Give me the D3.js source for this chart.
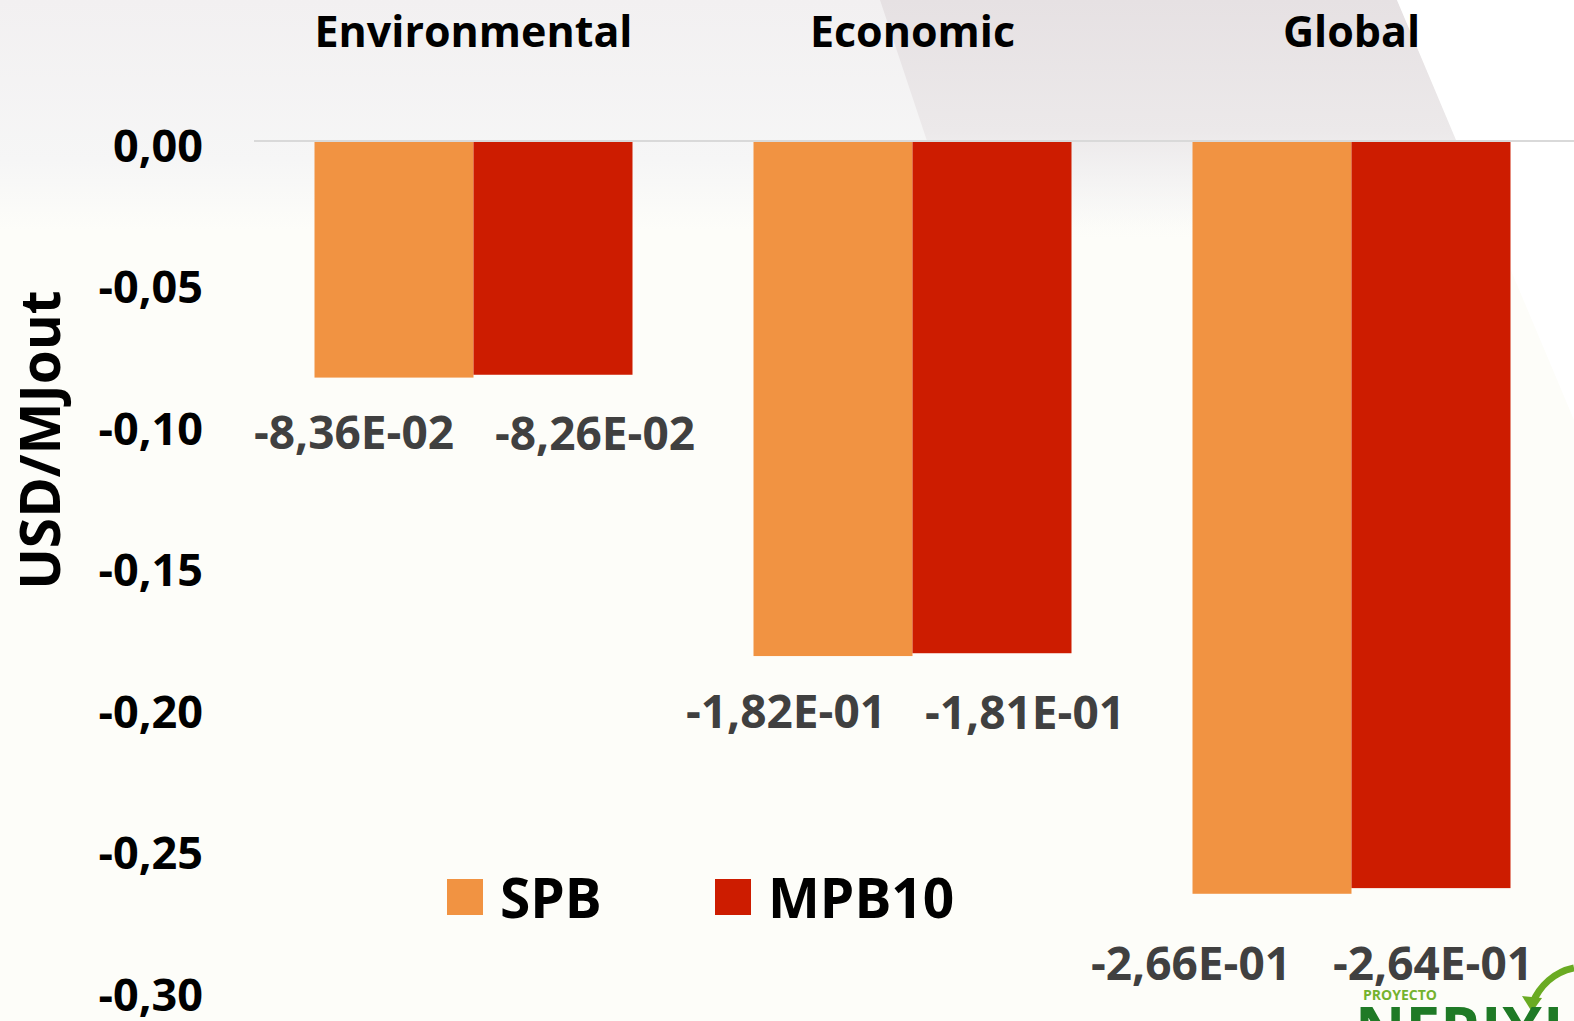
<!DOCTYPE html>
<html>
<head>
<meta charset="utf-8">
<script src="https://cdn.jsdelivr.net/npm/d3@7"></script>
<style>
  html, body { margin: 0; padding: 0; background: #fdfdf9; overflow: hidden; }
  text { font-family: "Open Sans", "Noto Sans", sans-serif; font-weight: bold; }
</style>
</head>
<body>
<div id="graphe"></div>
<script>
//----------------------------------------------------------------
// donnees du graphique
var categories = ["Environmental", "Economic", "Global"];
var series = ["SPB", "MPB10"];
var valeursSPB = [-0.0836, -0.182, -0.266];
var valeursMPB10 = [-0.0826, -0.181, -0.264];
var etiquettesSPB = ["-8,36E-02", "-1,82E-01", "-2,66E-01"];
var etiquettesMPB10 = ["-8,26E-02", "-1,81E-01", "-2,64E-01"];
var ticks = [0, -0.05, -0.10, -0.15, -0.20, -0.25, -0.30];
var couleurs = ["#f19342", "#cd1c00"];

// decalage manuel des etiquettes (comme sur la diapo)
var decalageX = [[-40, -47, -81], [42, 33, 2]];
var decalageY = [[55, 56, 70], [59, 60, 76]];

//----------------------------------------------------------------
var largeur = 1574, hauteur = 1021;
var svg = d3.select("#graphe")
  .append("svg")
  .attr("width", largeur)
  .attr("height", hauteur);

// fond de la diapo
var defs = svg.append("defs");
var gradHaut = defs.append("linearGradient")
  .attr("id", "gradHaut").attr("x1", 0).attr("y1", 0).attr("x2", 0).attr("y2", 1);
gradHaut.append("stop").attr("offset", "0%").attr("stop-color", "#f2f0f1");
gradHaut.append("stop").attr("offset", "70%").attr("stop-color", "#f6f6f6");
gradHaut.append("stop").attr("offset", "100%").attr("stop-color", "#fdfdf9");
var gradForme = defs.append("linearGradient")
  .attr("id", "gradForme").attr("x1", 0).attr("y1", 0).attr("x2", 0).attr("y2", 1);
gradForme.append("stop").attr("offset", "0%").attr("stop-color", "#e6e1e3");
gradForme.append("stop").attr("offset", "55%").attr("stop-color", "#ece9ea");
gradForme.append("stop").attr("offset", "100%").attr("stop-color", "#f6f6f6").attr("stop-opacity", 0);

svg.append("rect").attr("width", largeur).attr("height", hauteur).attr("fill", "#fdfdf9");
svg.append("rect").attr("width", largeur).attr("height", 230).attr("fill", "url(#gradHaut)");
svg.append("path")
  .attr("d", "M880,0 L1397,0 L1480,193 L1500,240 L960,240 Z")
  .attr("fill", "url(#gradForme)");
svg.append("path")
  .attr("d", "M1397,0 L1574,0 L1574,420 Z")
  .attr("fill", "#ffffff");

//----------------------------------------------------------------
// echelles
var x = d3.scaleBand()
  .domain(categories)
  .range([254, 1571])
  .paddingInner(121 / 439)
  .paddingOuter(0.5 * 121 / 439);
var xSerie = d3.scaleBand()
  .domain(series)
  .range([0, x.bandwidth()]);
var y = d3.scaleLinear()
  .domain([0, -0.30])
  .range([141, 990]);

var donnees = [];
categories.forEach(function(c, i) {
  donnees.push({cat: c, serie: 0, val: valeursSPB[i], lab: etiquettesSPB[i], i: i});
  donnees.push({cat: c, serie: 1, val: valeursMPB10[i], lab: etiquettesMPB10[i], i: i});
});

// ligne du zero
svg.append("line")
  .attr("x1", 254).attr("x2", largeur)
  .attr("y1", y(0)).attr("y2", y(0))
  .attr("stroke", "#d9d9d9")
  .attr("stroke-width", 2);

// barres
svg.selectAll(".barre")
  .data(donnees)
  .enter()
  .append("rect")
  .attr("class", "barre")
  .attr("x", function(d) { return x(d.cat) + xSerie(series[d.serie]); })
  .attr("y", y(0) + 1)
  .attr("width", xSerie.bandwidth())
  .attr("height", function(d) { return y(d.val) - y(0) - 1; })
  .attr("fill", function(d) { return couleurs[d.serie]; });

// etiquettes des valeurs
svg.selectAll(".etiquette")
  .data(donnees)
  .enter()
  .append("text")
  .attr("class", "etiquette")
  .attr("text-anchor", "middle")
  .attr("font-size", "46px")
  .attr("fill", "#404040")
  .attr("x", function(d) {
    return x(d.cat) + xSerie(series[d.serie]) + xSerie.bandwidth() / 2 + decalageX[d.serie][d.i];
  })
  .attr("y", function(d) { return y(d.val) + decalageY[d.serie][d.i] + 16; })
  .text(function(d) { return d.lab; });

// noms des categories en haut
svg.selectAll(".categorie")
  .data(categories)
  .enter()
  .append("text")
  .attr("class", "categorie")
  .attr("text-anchor", "middle")
  .attr("font-size", "43px")
  .attr("fill", "#000")
  .attr("x", function(d) { return x(d) + x.bandwidth() / 2; })
  .attr("y", 47)
  .text(function(d) { return d; });

// axe vertical (texte seulement)
var axeY = d3.axisLeft(y)
  .tickValues(ticks)
  .tickSize(0)
  .tickPadding(0)
  .tickFormat(function(d) { return d3.format(".2f")(d).replace("−", "-").replace(".", ","); });
var gAxe = svg.append("g")
  .attr("transform", "translate(203,0)")
  .call(axeY);
gAxe.select(".domain").remove();
gAxe.selectAll("text")
  .attr("font-family", "'Open Sans', sans-serif")
  .attr("font-weight", "bold")
  .attr("font-size", "45px")
  .attr("fill", "#000")
  .attr("dy", "20px");

// titre de l'axe
svg.append("text")
  .attr("transform", "translate(60,440) rotate(-90)")
  .attr("text-anchor", "middle")
  .attr("font-size", "55px")
  .attr("fill", "#000")
  .text("USD/MJout");

// legende
var legende = svg.selectAll(".legende")
  .data(series)
  .enter()
  .append("g")
  .attr("class", "legende")
  .attr("transform", function(d, i) { return "translate(" + (447 + i * 268) + ",879)"; });
legende.append("rect")
  .attr("width", 36).attr("height", 36)
  .attr("fill", function(d, i) { return couleurs[i]; });
legende.append("text")
  .attr("x", 53).attr("y", 39)
  .attr("font-size", "55px")
  .attr("fill", "#000")
  .text(function(d) { return d; });

// logo du projet (coupe en bas a droite)
svg.append("path")
  .attr("d", "M1574,968 C1555,972 1540,985 1532,1004")
  .attr("fill", "none")
  .attr("stroke", "#6aab23")
  .attr("stroke-width", 7);
svg.append("path")
  .attr("d", "M1522,996 L1532,1012 L1542,998 Z")
  .attr("fill", "#6aab23");
svg.append("text")
  .attr("x", 1363).attr("y", 1000)
  .attr("font-size", "14px")
  .attr("font-weight", "900")
  .attr("fill", "#74b22e")
  .text("PROYECTO");
svg.append("text")
  .attr("x", 1355).attr("y", 1052)
  .attr("font-size", "62px")
  .attr("fill", "#1f7a26")
  .text("NERIXI");
</script>
</body>
</html>
